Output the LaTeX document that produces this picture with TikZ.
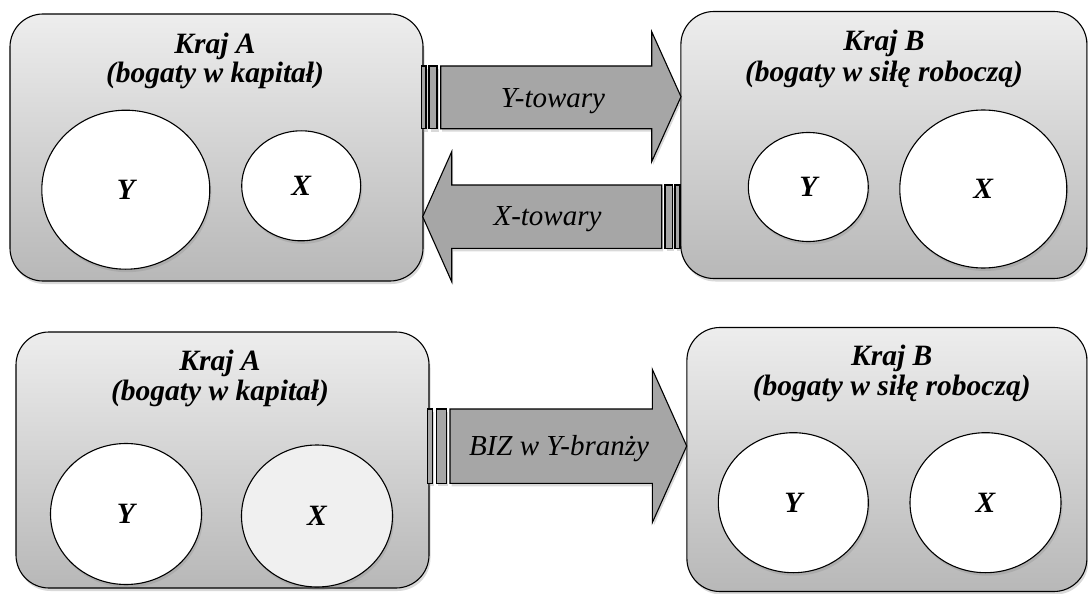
\documentclass[tikz,border=0pt]{standalone}
\usepackage{xcolor}
\usepackage{fontspec}
\setmainfont{Liberation Serif}
\usepackage{tikz}
\usetikzlibrary{shapes}
\usetikzlibrary{shadows}
\usetikzlibrary{positioning}
\definecolor{blk}{HTML}{A6A6A6}
\definecolor{soft}{HTML}{F0F0F0}
\newcommand{\titfont}{\fontsize{29.5}{32}\selectfont\bfseries\itshape}
\newcommand{\lblfont}{\fontsize{29}{32}\selectfont\itshape}

\begin{document}
\begin{tikzpicture}[
  x=1pt, y=-1pt,
  kraj/.style 2 args={
    rectangle,
    draw=black,
    line width=1.1pt,
    rounded corners=33pt,
    top color=black!7,
    bottom color=black!28,
    minimum width=#1,
    minimum height=#2,
    drop shadow={shadow xshift=1.5pt, shadow yshift=-3pt, opacity=0.3}},
  sek/.style n args={3}{
    ellipse,
    draw=black,
    line width=1.1pt,
    fill=#3,
    inner sep=0pt,
    minimum width=#1,
    minimum height=#2,
    font=\titfont,
    drop shadow={shadow xshift=1.5pt, shadow yshift=-3pt, opacity=0.25}},
  tit/.style={
    anchor=base,
    font=\titfont},
  flow/.style={
    draw=black,
    line width=1.1pt,
    fill=blk,
    drop shadow={shadow xshift=1.5pt, shadow yshift=-3pt, opacity=0.3}},
  lbl/.style={
    anchor=base,
    font=\lblfont},
]

  \useasboundingbox (0,0) rectangle (1088,594);

  % upper row: trade
  \node[kraj={413pt}{267pt}] (krajA_1) at (216.5,147.5) {};
  \node[tit] (titA_1) at (215,53.3) {Kraj A};
  \node[tit] (subA_1) at (215,82.5) {(bogaty w kapitał)};
  \node[sek={168pt}{159pt}{white}] (yA_1) at (125.8,189.7) {Y};
  \node[sek={119pt}{110pt}{white}] (xA_1) at (301.2,185.8) {X};

  \node[kraj={406pt}{267pt}] (krajB_1) at (883.9,145) {};
  \node[tit] (titB_1) at (884,51) {Kraj B};
  \node[tit] (subB_1) at (884,81.7) {(bogaty w siłę roboczą)};
  \node[sek={120pt}{109pt}{white}] (yB_1) at (808.3,187) {Y};
  \node[sek={167pt}{158pt}{white}] (xB_1) at (983.3,189) {X};

  \draw[flow] (421.7,66) rectangle (426,128.7);
  \draw[flow] (429,66) rectangle (437,128.7);
  \draw[flow] (440.7,66) -- (651.7,66) -- (651.7,31.7) -- (681,96.7)
      -- (651.7,161.7) -- (651.7,128.7) -- (440.7,128.7) -- cycle;
  \node[lbl] (ytow) at (553,107.3) {Y-towary};

  \draw[flow] (675,185) rectangle (680,248.3);
  \draw[flow] (665,185) rectangle (672.7,248.3);
  \draw[flow] (661.7,185) -- (451.7,185) -- (451.7,151.7) -- (422.7,216.7)
      -- (451.7,281.7) -- (451.7,248.3) -- (661.7,248.3) -- cycle;
  \node[lbl] (xtow) at (547.5,225) {X-towary};

  % lower row: FDI
  \node[kraj={413pt}{256pt}] (krajA_2) at (222.5,460) {};
  \node[tit] (titA_2) at (220,370) {Kraj A};
  \node[tit] (subA_2) at (220,400) {(bogaty w kapitał)};
  \node[sek={151pt}{141pt}{white}] (yA_2) at (126,514) {Y};
  \node[sek={151pt}{142pt}{soft}] (xA_2) at (317,516) {X};

  \node[kraj={400pt}{264pt}] (krajB_2) at (886.9,459.5) {};
  \node[tit] (titB_2) at (891.7,365) {Kraj B};
  \node[tit] (subB_2) at (891.7,395) {(bogaty w siłę roboczą)};
  \node[sek={150pt}{140pt}{white}] (yB_2) at (793.3,502.7) {Y};
  \node[sek={151pt}{140pt}{white}] (xB_2) at (985.5,502.7) {X};

  \draw[flow] (427.7,409) rectangle (432.3,483.3);
  \draw[flow] (436.7,409) rectangle (446.7,483.3);
  \draw[flow] (450,409) -- (652.3,409) -- (652.3,369.3) -- (686.7,446)
      -- (652.3,522.7) -- (652.3,483.3) -- (450,483.3) -- cycle;
  \node[lbl] (biz) at (559,455.7) {BIZ w Y-branży};

\end{tikzpicture}
\end{document}
